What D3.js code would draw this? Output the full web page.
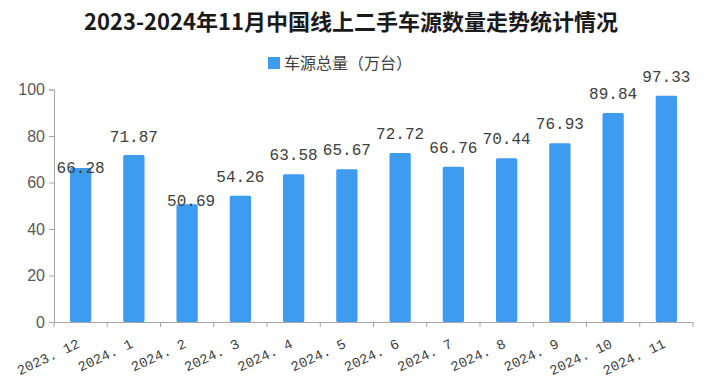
<!DOCTYPE html>
<html><head><meta charset="utf-8">
<script src="https://cdn.jsdelivr.net/npm/d3@7"></script>
<style>body{margin:0;background:#fff}svg{display:block}</style>
</head><body>
<svg id="c" width="713" height="380"></svg>
<script>
const categories = ["2023. 12","2024. 1","2024. 2","2024. 3","2024. 4","2024. 5","2024. 6","2024. 7","2024. 8","2024. 9","2024. 10","2024. 11"];
const values = [66.28,71.87,50.69,54.26,63.58,65.67,72.72,66.76,70.44,76.93,89.84,97.33];
const yTicks = [0,20,40,60,80,100];
const seriesName = "车源总量（万台）";
const title = "2023-2024年11月中国线上二手车源数量走势统计情况";
// manual label nudges (px), as in the source chart
const labelLift = [1,19,4,20,20,20,20,20,20,20,20,20];

const svg = d3.select("#c");
const m = {l:54, r:20, t:89.5, b:58};
const W = 713, H = 380;
const x = d3.scaleBand().domain(categories).range([m.l, W - m.r]).paddingInner(0.6).paddingOuter(0.3);
const xb = d3.scaleBand().domain(categories).range([m.l, W - m.r]);
const y = d3.scaleLinear().domain([0,100]).range([H - m.b, m.t]);

svg.append("text").attr("x", 351).attr("y", 30).attr("text-anchor","middle")
  .attr("font-family","'Noto Sans CJK SC'").attr("font-weight","bold").attr("font-size",22)
  .attr("fill","#1a1a1a").text(title);

// legend
svg.append("rect").attr("x",268).attr("y",57).attr("width",12).attr("height",12).attr("fill","#3d9bf0");
svg.append("text").attr("x",284).attr("y",69).attr("font-family","'Noto Sans CJK SC'").attr("font-size",16)
  .attr("fill","#404040").text(seriesName);

const yAxis = svg.append("g").attr("transform",`translate(${m.l},0)`)
  .call(d3.axisLeft(y).tickValues(yTicks).tickSize(5).tickPadding(4));
yAxis.select(".domain").attr("stroke","#a6a6a6");
yAxis.selectAll(".tick line").attr("stroke","#a6a6a6");
yAxis.selectAll(".tick text").attr("font-family","'Liberation Sans'").attr("font-size",16).attr("fill","#595959");

const xAxis = svg.append("g").attr("transform",`translate(0,${H - m.b})`)
  .call(d3.axisBottom(xb).tickSize(0).tickFormat(""));
xAxis.select(".domain").attr("stroke","#a6a6a6");
// boundary ticks
svg.append("g").selectAll("line").data(categories.concat(["__end"])).join("line")
  .attr("x1",(d,i)=> m.l + i*xb.step()).attr("x2",(d,i)=> m.l + i*xb.step())
  .attr("y1",H - m.b).attr("y2",H - m.b + 5).attr("stroke","#a6a6a6");

svg.append("g").selectAll("text").data(categories).join("text")
  .attr("transform", d => `translate(${xb(d) + xb.bandwidth()/2},${H - m.b + 25}) rotate(-25)`)
  .attr("text-anchor","end").attr("font-family","'Liberation Mono'").attr("font-size",14)
  .attr("fill","#404040").text(d => d);

svg.append("g").selectAll("rect").data(values).join("rect")
  .attr("x",(d,i)=> x(categories[i])).attr("width", x.bandwidth())
  .attr("y", d => y(d)).attr("height", d => y(0) - y(d))
  .attr("rx",1.5).attr("fill","#3d9bf0");

svg.append("g").selectAll("text").data(values).join("text")
  .attr("x",(d,i)=> x(categories[i]) + x.bandwidth()/2 + (i===2?4:0))
  .attr("y",(d,i)=> y(d) - labelLift[i] + 6)
  .attr("text-anchor","middle").attr("font-family","'Liberation Mono'").attr("font-size",16)
  .attr("fill","#404040").text(d => d.toFixed(2));
</script>
</body></html>
